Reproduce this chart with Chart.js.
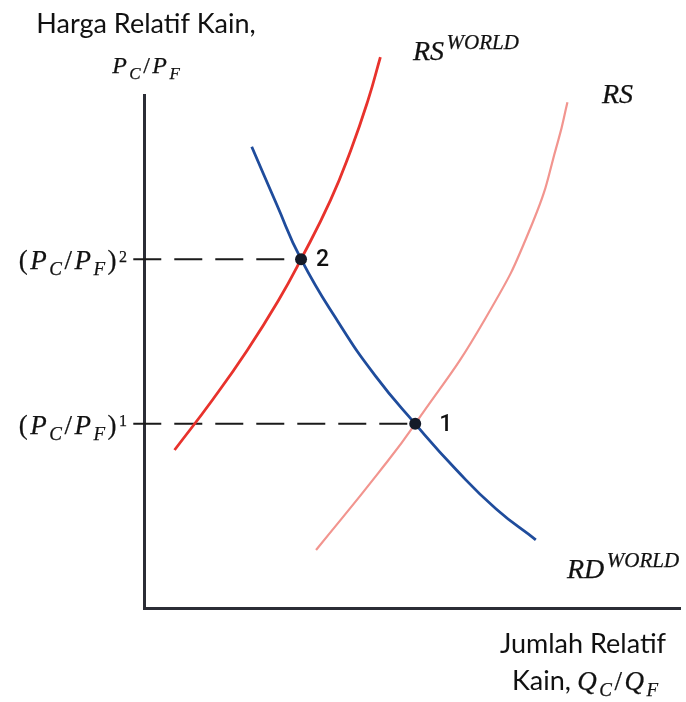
<!DOCTYPE html>
<html>
<head>
<meta charset="utf-8">
<script src="https://cdn.jsdelivr.net/npm/chart.js@4.4.1/dist/chart.umd.min.js"></script>
<style>
  html, body { margin: 0; padding: 0; background: #fff; }
  canvas { display: block; }
</style>
</head>
<body>
<canvas id="chart" width="686" height="702"></canvas>
<script>
// Curves, both axes run 0..10
const rsWorldX = [0.57, 1.28, 1.93, 2.51, 2.93, 3.48, 3.86, 4.18, 4.41];
const rsWorldY = [3.08, 4.06, 5.03, 6.00, 6.80, 7.95, 8.93, 9.90, 10.74];

const rsX = [3.21, 4.37, 5.06, 6.35, 7.25, 7.73, 7.90];
const rsY = [1.13, 2.63, 3.59, 5.61, 7.51, 9.12, 9.86];

const rdWorldX = [2.01, 2.47, 2.93, 3.62, 4.32, 5.06, 5.83, 6.57, 7.31];
const rdWorldY = [8.99, 7.88, 6.80, 5.58, 4.52, 3.59, 2.69, 1.93, 1.33];

// equilibrium points
const eqLabels = ['2', '1'];
const eqX = [2.93, 5.06];
const eqY = [6.80, 3.59];
const eqTickSup = ['2', '1'];   // (PC/PF)^n on the price axis

const dashStartX = -0.2;        // dashed guide starts just left of the axis
const labelDx = [15, 24];       // where the "1"/"2" text sits next to its dot

const toPts = (xs, ys) => xs.map((x, i) => ({ x, y: ys[i] }));

const MATH = '"Liberation Serif", serif';
const SANS = 'Lato, "Open Sans", sans-serif';
const GAP = 2.5;

// equation-editor style text
// kinds: i italic, u upright, b subscript, p superscript (italic), d small upright superscript
function fontFor(k, size) {
    let s = size;
    if (k === 'b') s = Math.round(size * 0.72);
    if (k === 'p') s = Math.round(size * 0.74);
    if (k === 'd') s = Math.round(size * 0.6);
    const style = (k === 'u' || k === 'd') ? 'normal' : 'italic';
    return `${style} ${s}px ${MATH}`;
}
function mathWidth(c, parts, size) {
    let w = 0;
    for (const [t, k] of parts) {
        c.font = fontFor(k, size);
        w += c.measureText(t).width + GAP;
    }
    return w - GAP;
}
function drawMath(c, x, y, parts, size, align) {
    const w = mathWidth(c, parts, size);
    let cx = align === 'right' ? x - w : align === 'center' ? x - w / 2 : x;
    c.textAlign = 'left';
    c.textBaseline = 'alphabetic';
    c.strokeStyle = c.fillStyle;
    c.lineWidth = 0.25;
    for (const [t, k] of parts) {
        c.font = fontFor(k, size);
        let dy = 0;
        if (k === 'b') dy = size * 0.23;
        if (k === 'p') dy = -size * 0.38;
        if (k === 'd') dy = -size * 0.28;
        c.fillText(t, cx, y + dy);
        c.strokeText(t, cx, y + dy);
        cx += c.measureText(t).width + GAP;
    }
}

const PCPF = [['P', 'i'], ['C', 'b'], ['/', 'u'], ['P', 'i'], ['F', 'b']];

const labelsPlugin = {
    id: 'labels',
    afterDraw(chart) {
        const c = chart.ctx;
        const xs = chart.scales.x, ys = chart.scales.y;
        c.save();
        c.fillStyle = '#111';
        c.textBaseline = 'alphabetic';

        // axis titles
        c.font = `27px ${SANS}`;
        c.textAlign = 'center';
        c.fillText('Harga Relatif Kain,', 146, 33);
        drawMath(c, 146, 73, PCPF, 24, 'center');

        c.font = `27px ${SANS}`;
        c.textAlign = 'right';
        c.fillText('Jumlah Relatif', 666, 653);
        c.textAlign = 'left';
        c.fillText('Kain,', 512, 690);
        drawMath(c, 658, 690, [['Q', 'i'], ['C', 'b'], ['/', 'u'], ['Q', 'i'], ['F', 'b']], 27, 'right');

        // curve names
        drawMath(c, 413, 60, [['RS', 'i'], ['WORLD', 'p']], 28, 'left');
        drawMath(c, 602, 103, [['RS', 'i']], 28, 'left');
        drawMath(c, 567, 578, [['RD', 'i'], ['WORLD', 'p']], 28, 'left');

        // price levels on the vertical axis
        eqY.forEach((v, i) => {
            const py = ys.getPixelForValue(v);
            drawMath(c, 127, py + 10,
                [['(', 'u'], ...PCPF, [')', 'u'], [eqTickSup[i], 'd']], 27, 'right');
        });

        // point numbers
        c.font = `500 23px Roboto, sans-serif`;
        c.textAlign = 'left';
        c.textBaseline = 'middle';
        eqLabels.forEach((t, i) => {
            c.fillText(t, xs.getPixelForValue(eqX[i]) + labelDx[i], ys.getPixelForValue(eqY[i]) + 1);
        });
        c.restore();
    }
};

const guides = eqX.map((x, i) => ({
    data: [{ x: dashStartX, y: eqY[i] }, { x, y: eqY[i] }],
    showLine: true,
    borderColor: '#1a1a1a',
    borderWidth: 2,
    borderDash: [28, 13],
    pointRadius: 0,
    clip: false,
    order: 5
}));

const curve = (xs, ys, color, width, order) => ({
    data: toPts(xs, ys),
    showLine: true,
    borderColor: color,
    borderWidth: width,
    pointRadius: 0,
    tension: 0.5,
    clip: false,
    order
});

new Chart(document.getElementById('chart'), {
    type: 'scatter',
    data: {
        datasets: [
            ...guides,
            curve(rsX, rsY, '#f2958f', 2.2, 4),
            curve(rsWorldX, rsWorldY, '#e8322c', 2.8, 3),
            curve(rdWorldX, rdWorldY, '#1f4c9c', 2.8, 2),
            {
                data: toPts(eqX, eqY),
                showLine: false,
                pointRadius: 6,
                pointBackgroundColor: '#141a28',
                pointBorderWidth: 0,
                clip: false,
                order: 1
            }
        ]
    },
    options: {
        responsive: false,
        animation: false,
        events: [],
        layout: { padding: { left: 144, top: 95, right: 0, bottom: 94 } },
        plugins: { legend: { display: false }, tooltip: { enabled: false } },
        scales: {
            x: {
                type: 'linear', min: 0, max: 10,
                grid: { display: false, drawTicks: false },
                ticks: { display: false },
                border: { display: true, color: '#2b2d35', width: 3 }
            },
            y: {
                type: 'linear', min: 0, max: 10,
                grid: { display: false, drawTicks: false },
                ticks: { display: false },
                border: { display: true, color: '#2b2d35', width: 3 }
            }
        }
    },
    plugins: [labelsPlugin]
});
</script>
</body>
</html>
